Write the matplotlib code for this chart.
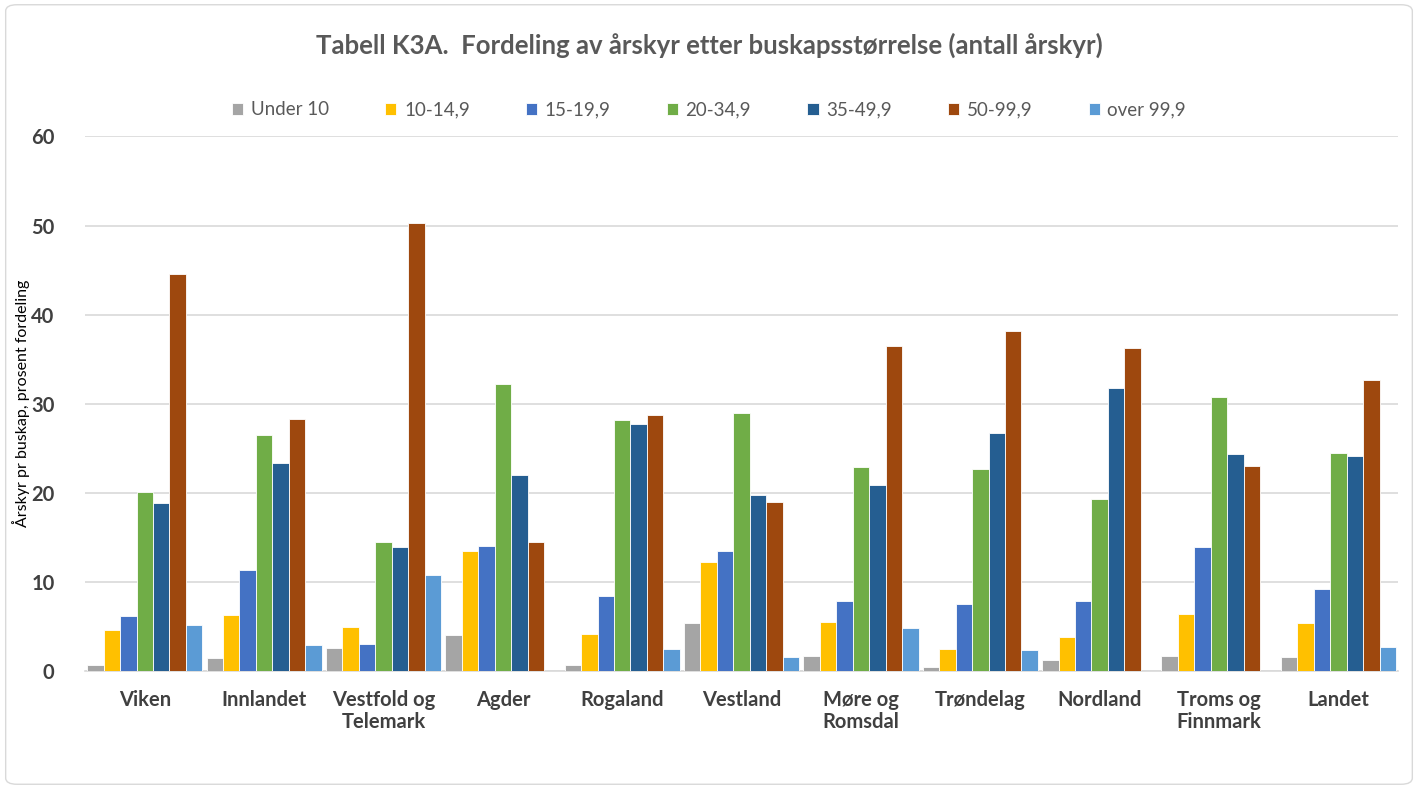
import numpy as np
import matplotlib.pyplot as plt
from matplotlib.patches import FancyBboxPatch

plt.rcParams['font.family'] = ['Lato', 'DejaVu Sans']

regions = ["Viken", "Innlandet", "Vestfold og\nTelemark", "Agder", "Rogaland", "Vestland",
           "Møre og\nRomsdal", "Trøndelag", "Nordland", "Troms og\nFinnmark", "Landet"]
series = ["Under 10", "10-14,9", "15-19,9", "20-34,9", "35-49,9", "50-99,9", "over 99,9"]

under_10 = [0.6, 1.4, 2.6, 4.0, 0.6, 5.3, 1.6, 0.4, 1.2, 1.7, 1.5]
s10_14 = [4.6, 6.3, 4.9, 13.4, 4.1, 12.2, 5.5, 2.4, 3.8, 6.4, 5.4]
s15_19 = [6.1, 11.3, 3.0, 14.0, 8.4, 13.4, 7.8, 7.5, 7.8, 13.9, 9.2]
s20_34 = [20.1, 26.5, 14.4, 32.2, 28.1, 28.9, 22.9, 22.6, 19.3, 30.7, 24.5]
s35_49 = [18.8, 23.3, 13.9, 22.0, 27.7, 19.7, 20.9, 26.7, 31.8, 24.3, 24.1]
s50_99 = [44.5, 28.3, 50.3, 14.4, 28.7, 18.9, 36.5, 38.1, 36.2, 23.0, 32.6]
over_99 = [5.1, 2.9, 10.8, 0.0, 2.4, 1.5, 4.8, 2.3, 0.0, 0.0, 2.7]

values = [under_10, s10_14, s15_19, s20_34, s35_49, s50_99, over_99]
colors = ["#A5A5A5", "#FFC000", "#4472C4", "#70AD47", "#255E91", "#9E480E", "#5B9BD5"]

fig = plt.figure(figsize=(14.18, 7.89), dpi=100)
ax = fig.add_axes([0.060, 0.150, 0.926, 0.677])

x = np.arange(len(regions))
group = 0.965
w = group / len(series)
for i, (name, vals) in enumerate(zip(series, values)):
    ax.bar(x - group / 2 + w * (i + 0.5), vals, width=w, color=colors[i], label=name,
           edgecolor="white", linewidth=0.6, zorder=3)

ax.set_xlim(-0.5, len(regions) - 0.5)
ax.set_ylim(0, 60)
ax.set_yticks(range(0, 61, 10))
ax.yaxis.grid(True, color="#d9d9d9", linewidth=1.2, zorder=0)
for s in ["top", "right", "left"]:
    ax.spines[s].set_visible(False)
ax.spines["bottom"].set_color("#d9d9d9")
ax.spines["bottom"].set_linewidth(1.2)
ax.tick_params(axis="both", length=0, labelsize=14.5, labelcolor="#404040")
ax.set_xticks(x)
ax.set_xticklabels(regions, fontweight="bold", va="top", linespacing=1.1)
for lbl in ax.get_yticklabels():
    lbl.set_fontweight("bold")
ax.tick_params(axis="x", pad=14)
ax.tick_params(axis="y", pad=22)

ax.set_ylabel("Årskyr pr buskap, prosent fordeling", fontsize=11.5, color="#000000")
ax.yaxis.set_label_coords(-0.042, 0.5)

fig.text(0.5, 0.943, "Tabell K3A.  Fordeling av årskyr etter buskapsstørrelse (antall årskyr)",
         ha="center", va="center", fontsize=18.5, fontweight="bold", color="#595959")

fig.legend(loc="center", bbox_to_anchor=(0.5, 0.861), ncol=7, frameon=False, fontsize=13.5,
           handlelength=0.6, handleheight=0.6, columnspacing=3.0, handletextpad=0.4,
           labelcolor="#595959")

fig.patches.append(FancyBboxPatch((0.004, 0.006), 0.992, 0.988, boxstyle="round,pad=0,rounding_size=0.008",
                                  transform=fig.transFigure, fill=False, edgecolor="#d9d9d9",
                                  linewidth=1.0))

plt.savefig("out.png", dpi=100)
